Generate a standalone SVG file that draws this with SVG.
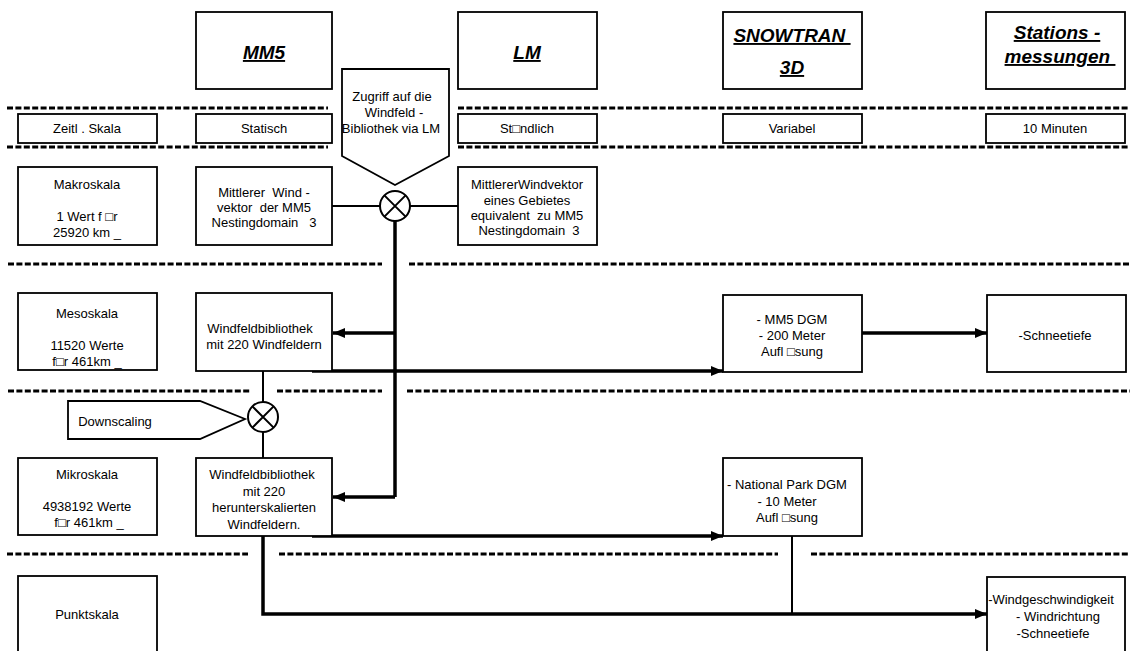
<svg xmlns="http://www.w3.org/2000/svg" width="1135" height="651" viewBox="0 0 1135 651">
  <style>
    .box { fill: #fff; stroke: #000; stroke-width: 1.8; }
    .t { font-family: "Liberation Sans", Arial, "DejaVu Sans", sans-serif; font-size: 13px; text-anchor: middle; fill: #000; }
    .h { font-family: "Liberation Sans", Arial, sans-serif; font-size: 19px; font-weight: bold; font-style: italic; text-decoration: underline; text-anchor: middle; fill: #000; }
    .dash { stroke: #000; stroke-width: 3; stroke-dasharray: 6 2.4; fill: none; }
    .thin { stroke: #000; stroke-width: 2; fill: none; }
    .thick { stroke: #000; stroke-width: 3.5; fill: none; }
    .mix { fill: #fff; stroke: #000; stroke-width: 2; }
  </style>
  <defs>
    <marker id="arrow" markerUnits="userSpaceOnUse" markerWidth="13" markerHeight="11" refX="12" refY="5" orient="auto">
      <path d="M0,0 L12,5 L0,10 Z" fill="#000"/>
    </marker>
  </defs>

  <!-- scale separators -->
  <g id="separators">
    <path class="dash" d="M7,108 H328 M458,108 H1130"/>
    <path class="dash" d="M7,147 H328 M458,147 H1130"/>
    <path class="dash" d="M8,264 H382 M409,264 H1130"/>
    <path class="dash" d="M8,391 H250 M277,391 H382 M407,391 H1130"/>
    <path class="dash" d="M7,554 H248 M279,554 H778 M811,554 H1130"/>
  </g>

  <!-- connectors -->
  <g id="connectors">
    <line class="thin" x1="332" y1="206" x2="380" y2="206"/>
    <line class="thin" x1="410" y1="206" x2="458" y2="206"/>
    <line class="thick" x1="395" y1="221" x2="395" y2="497"/>
    <line class="thick" x1="395" y1="333" x2="333" y2="333" marker-end="url(#arrow)"/>
    <line class="thick" x1="395" y1="497" x2="333" y2="497" marker-end="url(#arrow)"/>
    <line class="thick" x1="312" y1="371" x2="723" y2="371" marker-end="url(#arrow)"/>
    <line class="thick" x1="862" y1="333" x2="987" y2="333" marker-end="url(#arrow)"/>
    <line class="thin" x1="263" y1="371" x2="263" y2="402"/>
    <line class="thin" x1="263" y1="432" x2="263" y2="458"/>
    <line class="thick" x1="312" y1="536" x2="723" y2="536" marker-end="url(#arrow)"/>
    <path class="thick" d="M263,536 V614 H987" marker-end="url(#arrow)"/>
    <line class="thin" x1="792" y1="536" x2="792" y2="614"/>
  </g>

  <!-- model headers -->
  <g id="hdr-mm5">
    <rect class="box" x="196" y="12" width="136" height="77"/>
    <text class="h" x="264" y="59">MM5</text>
  </g>
  <g id="hdr-lm">
    <rect class="box" x="458" y="12" width="139" height="77"/>
    <text class="h" x="527" y="59">LM</text>
  </g>
  <g id="hdr-snowtran">
    <rect class="box" x="723" y="12" width="139" height="77"/>
    <text class="h" x="792" y="42">SNOWTRAN&#160;</text>
    <text class="h" x="792" y="74">3D</text>
  </g>
  <g id="hdr-stations">
    <rect class="box" x="986" y="12" width="139" height="77"/>
    <text class="h" x="1057" y="39">Stations -</text>
    <text class="h" x="1060" y="63">messungen&#160;</text>
  </g>

  <!-- time scale row -->
  <g id="zeit-skala">
    <rect class="box" x="18" y="114" width="139" height="29"/>
    <text class="t" x="87" y="133">Zeitl . Skala</text>
  </g>
  <g id="zeit-mm5">
    <rect class="box" x="196" y="114" width="136" height="29"/>
    <text class="t" x="264" y="133">Statisch</text>
  </g>
  <g id="zeit-lm">
    <rect class="box" x="458" y="114" width="139" height="29"/>
    <text class="t" x="527" y="133">St□ndlich</text>
  </g>
  <g id="zeit-snowtran">
    <rect class="box" x="723" y="114" width="139" height="29"/>
    <text class="t" x="792" y="133">Variabel</text>
  </g>
  <g id="zeit-stations">
    <rect class="box" x="986" y="114" width="139" height="29"/>
    <text class="t" x="1055" y="133">10 Minuten</text>
  </g>

  <!-- LM access -->
  <g id="zugriff">
    <polygon class="box" points="342,69 449,69 449,156 395,185 342,156"/>
    <text class="t" x="392" y="101">Zugriff auf die</text>
    <text class="t" x="394" y="117">Windfeld -</text>
    <text class="t" x="391" y="133">Bibliothek via LM</text>
  </g>
  <g id="mix-lm">
    <circle class="mix" cx="395" cy="206" r="15"/>
    <path class="thin" d="M384.4,195.4 L405.6,216.6 M405.6,195.4 L384.4,216.6"/>
  </g>

  <!-- macro scale -->
  <g id="makroskala">
    <rect class="box" x="18" y="167" width="139" height="78"/>
    <text class="t" x="87" y="189">Makroskala</text>
    <text class="t" x="87" y="221">1 Wert f □r</text>
    <text class="t" x="87" y="237">25920 km _</text>
  </g>
  <g id="mm5-wind">
    <rect class="box" x="196" y="167" width="136" height="78"/>
    <text class="t" x="264" y="197" xml:space="preserve">Mittlerer  Wind -</text>
    <text class="t" x="264" y="212" xml:space="preserve">vektor  der MM5</text>
    <text class="t" x="264" y="227" xml:space="preserve">Nestingdomain   3</text>
  </g>
  <g id="lm-wind">
    <rect class="box" x="458" y="167" width="139" height="78"/>
    <text class="t" x="527" y="189">MittlererWindvektor</text>
    <text class="t" x="527" y="205">eines Gebietes</text>
    <text class="t" x="527" y="220" xml:space="preserve">equivalent  zu MM5</text>
    <text class="t" x="529" y="235" xml:space="preserve">Nestingdomain  3</text>
  </g>

  <!-- meso scale -->
  <g id="mesoskala">
    <rect class="box" x="18" y="293" width="139" height="77"/>
    <text class="t" x="87" y="318">Mesoskala</text>
    <text class="t" x="87" y="350">11520 Werte</text>
    <text class="t" x="87" y="366">f□r 461km _</text>
  </g>
  <g id="bibliothek-meso">
    <rect class="box" x="196" y="293" width="136" height="78"/>
    <text class="t" x="260" y="333">Windfeldbibliothek</text>
    <text class="t" x="264" y="349">mit 220 Windfeldern</text>
  </g>
  <g id="dgm-mm5">
    <rect class="box" x="723" y="295" width="139" height="77"/>
    <text class="t" x="792" y="324">- MM5 DGM</text>
    <text class="t" x="792" y="340">- 200 Meter</text>
    <text class="t" x="792" y="356">Aufl □sung</text>
  </g>
  <g id="schneetiefe">
    <rect class="box" x="987" y="295" width="139" height="77"/>
    <text class="t" x="1055" y="340">-Schneetiefe</text>
  </g>

  <!-- downscaling -->
  <g id="downscaling">
    <polygon class="box" points="68,401 200,401 245,419 200,439 68,439"/>
    <text class="t" x="115" y="426">Downscaling</text>
  </g>
  <g id="mix-down">
    <circle class="mix" cx="263" cy="417" r="15"/>
    <path class="thin" d="M252.4,406.4 L273.6,427.6 M273.6,406.4 L252.4,427.6"/>
  </g>

  <!-- micro scale -->
  <g id="mikroskala">
    <rect class="box" x="18" y="458" width="139" height="77"/>
    <text class="t" x="87" y="479">Mikroskala</text>
    <text class="t" x="87" y="511">4938192 Werte</text>
    <text class="t" x="89" y="527">f□r 461km _</text>
  </g>
  <g id="bibliothek-mikro">
    <rect class="box" x="196" y="458" width="136" height="78"/>
    <text class="t" x="262" y="479">Windfeldbibliothek</text>
    <text class="t" x="264" y="495.5">mit 220</text>
    <text class="t" x="264" y="512">herunterskalierten</text>
    <text class="t" x="264" y="528.5">Windfeldern.</text>
  </g>
  <g id="dgm-np">
    <rect class="box" x="723" y="458" width="139" height="78"/>
    <text class="t" x="787" y="489">- National Park DGM</text>
    <text class="t" x="787" y="506">- 10 Meter</text>
    <text class="t" x="787" y="522">Aufl □sung</text>
  </g>

  <!-- point scale -->
  <g id="punktskala">
    <rect class="box" x="18" y="576" width="139" height="85"/>
    <text class="t" x="87" y="619">Punktskala</text>
  </g>
  <g id="ausgabe">
    <rect class="box" x="987" y="577" width="138" height="85"/>
    <text class="t" x="1051" y="604">-Windgeschwindigkeit</text>
    <text class="t" x="1058" y="621">- Windrichtung</text>
    <text class="t" x="1053" y="638">-Schneetiefe</text>
  </g>
</svg>
